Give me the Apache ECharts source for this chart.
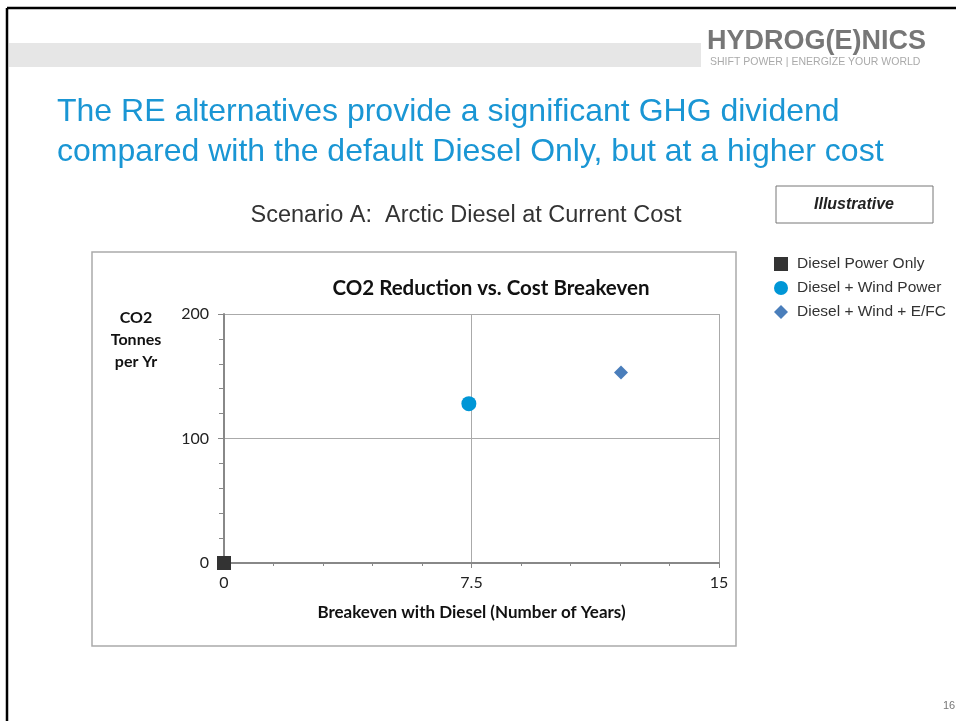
<!DOCTYPE html>
<html>
<head>
<meta charset="utf-8">
<script src="https://cdn.jsdelivr.net/npm/echarts@6/dist/echarts.min.js"></script>
<style>
html,body{margin:0;padding:0;background:#fff;}
#c{width:956px;height:721px;}
</style>
</head>
<body>
<div id="c"></div>
<script>
const seriesNames = ['Diesel Power Only', 'Diesel + Wind Power', 'Diesel + Wind + E/FC'];
const dieselOnly = [[0, 0]];
const dieselWind = [[7.42, 128]];
const dieselWindEFC = [[12.03, 153]];
const xTicks = [0, 7.5, 15];
const yTicks = [0, 100, 200];

const chart = echarts.init(document.getElementById('c'), null, {renderer: 'canvas'});
const tickFont = 'Lato, "Open Sans", sans-serif';
const arial = 'Liberation Sans, Arial, sans-serif';
const option = {
  animation: false,
  backgroundColor: '#fff',
  legend: {
    orient: 'vertical', left: 769, top: 251, itemGap: 8, itemWidth: 14, itemHeight: 14,
    textStyle: {fontFamily: arial, fontSize: 15.5, color: '#333', padding: [0, 0, 0, 4]},
    data: seriesNames
  },
  grid: {left: 224, right: 237, top: 314, bottom: 158},
  xAxis: {
    type: 'value', min: 0, max: 15, interval: 7.5,
    axisLine: {show: true, onZero: false, lineStyle: {color: '#888', width: 2}},
    axisTick: {show: true, length: 5, lineStyle: {color: '#888'}},
    minorTick: {show: true, splitNumber: 5, length: 3, lineStyle: {color: '#888'}},
    splitLine: {show: true, lineStyle: {color: '#aaa'}},
    axisLabel: {fontFamily: tickFont, fontSize: 16, color: '#222', margin: 12,
      formatter: v => xTicks.includes(v) ? String(v) : ''},
    name: 'Breakeven with Diesel (Number of Years)', nameLocation: 'middle', nameGap: 41,
    nameTextStyle: {fontFamily: tickFont, fontWeight: 'bold', fontSize: 17, color: '#111'}
  },
  yAxis: {
    type: 'value', min: 0, max: 200, interval: 100,
    axisLine: {show: true, onZero: false, lineStyle: {color: '#888', width: 2}},
    axisTick: {show: true, length: 6, lineStyle: {color: '#888'}},
    minorTick: {show: true, splitNumber: 5, length: 5, lineStyle: {color: '#888'}},
    splitLine: {show: true, lineStyle: {color: '#aaa'}},
    axisLabel: {fontFamily: tickFont, fontSize: 16, color: '#222', margin: 15,
      formatter: v => yTicks.includes(v) ? String(v) : ''}
  },
  series: [
    {name: seriesNames[0], type: 'scatter', symbol: 'rect', symbolSize: 14, data: dieselOnly,
      itemStyle: {color: '#333333', opacity: 1}, z: 5},
    {name: seriesNames[1], type: 'scatter', symbol: 'circle', symbolSize: 15, data: dieselWind,
      itemStyle: {color: '#0096d6', opacity: 1}},
    {name: seriesNames[2], type: 'scatter', symbol: 'diamond', symbolSize: 14, data: dieselWindEFC,
      itemStyle: {color: '#4a7ebb', opacity: 1}}
  ],
  graphic: [
    {type: 'line', shape: {x1: 7, y1: 8, x2: 956, y2: 8}, style: {stroke: '#000', lineWidth: 2.5}},
    {type: 'line', shape: {x1: 7, y1: 8, x2: 7, y2: 721}, style: {stroke: '#000', lineWidth: 2.5}},
    {type: 'rect', shape: {x: 9, y: 43, width: 692, height: 24}, style: {fill: '#e6e6e6'}},
    {type: 'text', x: 707, y: 42, style: {text: 'HYDROG(E)NICS', textVerticalAlign: 'middle', fontFamily: arial, fontWeight: 900, fontSize: 27, fill: '#777'}},
    {type: 'text', x: 710, y: 62, style: {text: 'SHIFT POWER | ENERGIZE YOUR WORLD', textVerticalAlign: 'middle', fontFamily: arial, fontSize: 10.5, fill: '#aaa'}},
    {type: 'text', x: 57, y: 92, style: {text: 'The RE alternatives provide a significant GHG dividend\ncompared with the default Diesel Only, but at a higher cost', fontFamily: arial, fontSize: 32, lineHeight: 40, fill: '#1a96d4'}},
    {type: 'text', x: 466, y: 216, style: {text: 'Scenario A:  Arctic Diesel at Current Cost', textAlign: 'center', textVerticalAlign: 'middle', fontFamily: arial, fontSize: 23.5, fill: '#333'}},
    {type: 'rect', shape: {x: 776, y: 186, width: 157, height: 37}, style: {fill: '#fff', stroke: '#777', lineWidth: 1}},
    {type: 'text', x: 854, y: 205, style: {text: 'Illustrative', textAlign: 'center', textVerticalAlign: 'middle', fontFamily: arial, fontStyle: 'italic', fontWeight: 'bold', fontSize: 16, fill: '#222'}},
    {type: 'rect', shape: {x: 92, y: 252, width: 644, height: 394}, style: {fill: 'none', stroke: '#aaa', lineWidth: 1.5}, z: -1},
    {type: 'text', x: 491, y: 288, style: {text: 'CO2 Reduction vs. Cost Breakeven', textAlign: 'center', textVerticalAlign: 'middle', fontFamily: tickFont, fontWeight: 'bold', fontSize: 20.5, fill: '#111'}},
    {type: 'text', x: 136, y: 340, style: {text: 'CO2\nTonnes\nper Yr', textAlign: 'center', textVerticalAlign: 'middle', fontFamily: tickFont, fontWeight: 'bold', fontSize: 16, lineHeight: 22, fill: '#111'}},
    {type: 'text', x: 943, y: 706, style: {text: '16', textVerticalAlign: 'middle', fontFamily: arial, fontSize: 11, fill: '#777'}}
  ]
};
chart.setOption(option);
</script>
</body>
</html>
